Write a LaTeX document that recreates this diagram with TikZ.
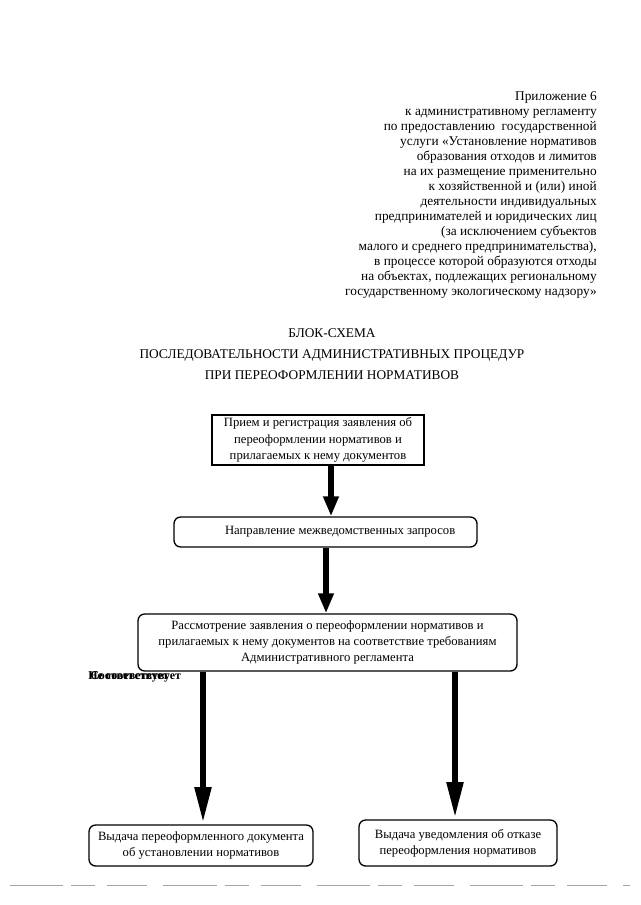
\documentclass[tikz,border=0pt]{standalone}
\usepackage{fontspec}
\setmainfont{Liberation Serif}
\usetikzlibrary{arrows.meta, calc, positioning}

\begin{document}
\begin{tikzpicture}[x=0.75pt, y=-0.75pt,
    box/.style={draw, line width=1pt, rounded corners=5pt, align=center, inner sep=2pt,
        font=\fontsize{9.5}{12.2}\selectfont},
    sharpbox/.style={box, rounded corners=0pt, line width=1.3pt},
    bigarrow/.style={line width=4.6pt, -{Triangle[length=15pt, width=11pt]}},
    longarrow/.style={line width=5.2pt, -{Triangle[length=28pt, width=11.5pt]}},
    hdr/.style={align=right, font=\fontsize{10}{11.3}\selectfont, inner sep=0pt},
    ttl/.style={align=center, font=\fontsize{10}{15.8}\selectfont, inner sep=0pt}]
    \useasboundingbox (0,0) rectangle (640,905);

    % appendix header
    \node[hdr, anchor=north east] (hdr) at (597,91)
        {Приложение 6\\
         к административному регламенту\\
         по предоставлению\ \ государственной\\
         услуги «Установление нормативов\\
         образования отходов и лимитов\\
         на их размещение применительно\\
         к хозяйственной и (или) иной\\
         деятельности индивидуальных\\
         предпринимателей и юридических лиц\\
         (за исключением субъектов\\
         малого и среднего предпринимательства),\\
         в процессе которой образуются отходы\\
         на объектах, подлежащих региональному\\
         государственному экологическому надзору»};

    \node[ttl] (title) at (332,354)
        {БЛОК-СХЕМА\\
         ПОСЛЕДОВАТЕЛЬНОСТИ АДМИНИСТРАТИВНЫХ ПРОЦЕДУР\\
         ПРИ ПЕРЕОФОРМЛЕНИИ НОРМАТИВОВ};

    % blocks
    \node[sharpbox, minimum width=159pt, minimum height=36pt] (reg) at (318,440)
        {Прием и регистрация заявления об\\ переоформлении нормативов и\\ прилагаемых к нему документов};
    \node[box, minimum width=227.25pt, minimum height=22.5pt] (req) at (325.5,532)
        {\hspace*{22pt}Направление межведомственных запросов};
    \node[box, minimum width=284.25pt, minimum height=42.75pt] (chk) at (327.5,642.5)
        {Рассмотрение заявления о переоформлении нормативов и\\
         прилагаемых к нему документов на соответствие требованиям\\
         Административного регламента};
    \node[box, minimum width=168pt, minimum height=30.75pt] (ok) at (201,845.5)
        {Выдача переоформленного документа\\ об установлении нормативов};
    \node[box, minimum width=148.5pt, minimum height=34.5pt] (no) at (458,843)
        {Выдача уведомления об отказе\\ переоформления нормативов};

    % overprinted label
    \node[anchor=west, inner sep=0pt, font=\fontsize{9}{10}\selectfont\bfseries] (lblno) at (88,677) {Не соответствует};
    \node[anchor=west, inner sep=0pt, font=\fontsize{9}{10}\selectfont\bfseries] (lblyes) at (90,677) {Соответствует};

    % arrows
    \draw[bigarrow] ($(reg.south)+(13,0)$) coordinate (a1) -- (a1 |- req.north);
    \draw[bigarrow] ($(req.south)+(0.5,0)$) coordinate (a2) -- (a2 |- chk.north);
    \draw[longarrow] ($(chk.south)+(-124.5,0)$) coordinate (a3) -- (a3 |- ok.north);
    \draw[longarrow] ($(chk.south)+(127.5,0)$) coordinate (a4) -- (a4 |- no.north);

    % scan edge
    \draw[gray!70, line width=0.6pt, dash pattern=on 40pt off 6pt on 18pt off 9pt on 30pt off 12pt] (10,885) -- (630,885);
\end{tikzpicture}
\end{document}
